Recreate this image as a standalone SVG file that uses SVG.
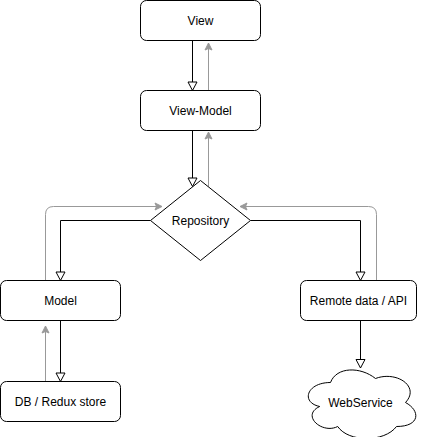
<svg xmlns="http://www.w3.org/2000/svg" width="421" height="437" viewBox="0 0 421 437">
<style>
.box{fill:#fff;stroke:#000;stroke-width:1}
.lbl{font-family:"Liberation Sans",Arial,Helvetica,sans-serif;font-size:12px;fill:#000;text-anchor:middle}
.blk{fill:none;stroke:#000;stroke-width:1}
.gry{fill:none;stroke:#999;stroke-width:1}
</style>
<defs>
<marker id="open" markerUnits="userSpaceOnUse" markerWidth="12" markerHeight="12" viewBox="0 0 12 12" refX="10" refY="6" orient="auto">
<path d="M1.5,1.5 L10,6 L1.5,10.5 Z" fill="#fff" stroke="#000" stroke-width="1"/>
</marker>
<marker id="cls" markerUnits="userSpaceOnUse" markerWidth="10" markerHeight="10" viewBox="0 0 10 10" refX="8" refY="5" orient="auto">
<path d="M1,1.5 L8,5 L1,8.5 L2.5,5 Z" fill="#999" stroke="#999" stroke-width="1"/>
</marker>
</defs>
<rect width="421" height="437" fill="#fff"/>
<g id="connectors">
<path class="blk" d="M192.5,40.5 V90.5" marker-end="url(#open)"/>
<path class="gry" d="M208.5,90.5 V43" marker-end="url(#cls)"/>
<path class="blk" d="M192.5,130.5 V186.5" marker-end="url(#open)"/>
<path class="gry" d="M208.5,186.5 V132" marker-end="url(#cls)"/>
<path class="blk" d="M150.5,220.5 H60.5 V280.5" marker-end="url(#open)"/>
<path class="gry" d="M45.5,280.5 V214.5 Q45.5,206.5 53.5,206.5 H162" marker-end="url(#cls)"/>
<path class="blk" d="M250.5,220.5 H360.5 V280.5" marker-end="url(#open)"/>
<path class="gry" d="M376.5,280.5 V214.5 Q376.5,206.5 368.5,206.5 H240" marker-end="url(#cls)"/>
<path class="blk" d="M60.5,320.5 V381.5" marker-end="url(#open)"/>
<path class="gry" d="M45.5,381.5 V326" marker-end="url(#cls)"/>
<path class="blk" d="M360.5,320.5 V368" marker-end="url(#open)"/>
</g>
<g id="view">
<rect class="box" x="140.5" y="0.5" width="120" height="40" rx="6"/>
<text class="lbl" x="200.5" y="24.5">View</text>
</g>
<g id="view-model">
<rect class="box" x="140.5" y="90.5" width="120" height="40" rx="6"/>
<text class="lbl" x="200.5" y="114.5">View-Model</text>
</g>
<g id="repository">
<path class="box" d="M200.5,180.5 L250.5,220.5 L200.5,260.5 L150.5,220.5 Z"/>
<text class="lbl" x="200.5" y="224.5">Repository</text>
</g>
<g id="model">
<rect class="box" x="0.5" y="280.5" width="120" height="40" rx="6"/>
<text class="lbl" x="60.5" y="304.5">Model</text>
</g>
<g id="db">
<rect class="box" x="0.5" y="381.5" width="120" height="40" rx="6"/>
<text class="lbl" x="60.5" y="405.5">DB / Redux store</text>
</g>
<g id="remote">
<rect class="box" x="300.5" y="280.5" width="116" height="40" rx="6"/>
<text class="lbl" x="358.5" y="304.5">Remote data / API</text>
</g>
<g id="webservice">
<path class="box" d="M330.5,382.5 C306.5,382.5 300.5,402.5 319.7,406.5 C300.5,415.3 322.1,434.5 337.7,426.5 C348.5,442.5 384.5,442.5 396.5,426.5 C420.5,426.5 420.5,410.5 405.5,402.5 C420.5,386.5 396.5,370.5 375.5,378.5 C360.5,366.5 336.5,366.5 330.5,382.5 Z"/>
<text class="lbl" x="360.5" y="406.5">WebService</text>
</g>
</svg>
